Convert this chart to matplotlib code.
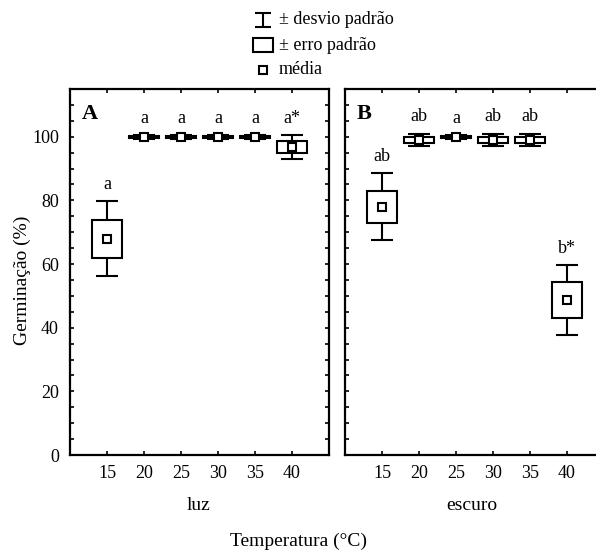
import numpy as np
import matplotlib
matplotlib.use('Agg')
import matplotlib.pyplot as plt
from matplotlib.patches import Rectangle
from matplotlib.ticker import MultipleLocator

plt.rcParams['font.family'] = ['Liberation Serif', 'DejaVu Serif']

# temperaturas (°C)
temps = [15, 20, 25, 30, 35, 40]

# luz: media, erro padrao, desvio padrao
luz_mean = [67.9, 100.0, 100.0, 100.0, 100.0, 96.8]
luz_se = [5.9, 0.3, 0.3, 0.3, 0.3, 1.9]
luz_sd = [11.8, 0.6, 0.6, 0.6, 0.6, 3.8]
luz_letters = ['a', 'a', 'a', 'a', 'a', 'a*']

# escuro
escuro_mean = [78.0, 99.0, 100.0, 99.0, 99.0, 48.7]
escuro_se = [5.0, 1.0, 0.3, 1.0, 1.0, 5.6]
escuro_sd = [10.5, 2.0, 0.6, 2.0, 2.0, 11.0]
escuro_letters = ['ab', 'ab', 'a', 'ab', 'ab', 'b*']

W, H = 596, 552
BOX_HW = 2.0
CAP_HW = 1.5
LW = 1.5


def px_axes(fig, l, t, r, b):
    return fig.add_axes([l / W, 1 - b / H, (r - l) / W, (b - t) / H])


def box_panel(ax, x, mean, se, sd, letters, tag, show_ylabels):
    for xi, m, s, d, lab in zip(x, mean, se, sd, letters):
        # whiskers (desvio padrao)
        ax.vlines(xi, m + s, m + d, color='k', lw=LW, zorder=2)
        ax.vlines(xi, m - d, m - s, color='k', lw=LW, zorder=2)
        ax.hlines([m - d, m + d], xi - CAP_HW, xi + CAP_HW, color='k', lw=LW, zorder=2)
        # caixa (erro padrao)
        ax.add_patch(Rectangle((xi - BOX_HW, m - s), 2 * BOX_HW, 2 * s,
                               facecolor='white', edgecolor='k', lw=LW, zorder=3))
        ax.text(xi, m + d + 3.8, lab, ha='center', va='baseline', fontsize=13)
    ax.plot(x, mean, 's', ms=6, mfc='white', mec='k', mew=1.5, zorder=4)

    ax.set_xlim(10, 45)
    ax.set_ylim(0, 115)
    ax.set_xticks(temps)
    ax.yaxis.set_major_locator(MultipleLocator(20))
    ax.yaxis.set_minor_locator(MultipleLocator(5))
    ax.tick_params(which='both', direction='in', top=True, right=True,
                   length=3, width=1.2, labelsize=13)
    ax.tick_params(axis='x', pad=7)
    ax.tick_params(axis='y', pad=8)
    if not show_ylabels:
        ax.tick_params(axis='y', labelleft=False)
    ax.set_ylim(0, 115)
    for sp in ax.spines.values():
        sp.set_linewidth(1.6)
    ax.text(0.045, 0.917, tag, transform=ax.transAxes, fontsize=16,
            fontweight='bold', ha='left', va='baseline')


fig = plt.figure(figsize=(W / 100, H / 100), dpi=100)

axA = px_axes(fig, 70, 89, 329, 455)
axB = px_axes(fig, 345, 89, 604, 455)

box_panel(axA, temps, luz_mean, luz_se, luz_sd, luz_letters, 'A', True)
box_panel(axB, temps, escuro_mean, escuro_se, escuro_sd, escuro_letters, 'B', False)

axA.set_yticks([0, 20, 40, 60, 80, 100])

fig.text(199 / W, 1 - 505 / H, 'luz', ha='center', va='center', fontsize=14)
fig.text(472 / W, 1 - 505 / H, 'escuro', ha='center', va='center', fontsize=14)
fig.text(298 / W, 1 - 541 / H, 'Temperatura (°C)', ha='center', va='center', fontsize=14)
fig.text(22 / W, 1 - 280 / H, 'Germinação (%)', ha='center', va='center',
         rotation=90, fontsize=14)

# legenda
lax = fig.add_axes([0, 0, 1, 1])
lax.set_xlim(0, W)
lax.set_ylim(H, 0)
lax.axis('off')
sx = 263
lax.vlines(sx, 13, 27, color='k', lw=LW)
lax.hlines([13, 27], sx - 8, sx + 8, color='k', lw=LW)
lax.add_patch(Rectangle((sx - 10, 38), 20, 14, facecolor='white', edgecolor='k', lw=LW))
lax.plot([sx], [70], 's', ms=6, mfc='white', mec='k', mew=1.5)
lax.text(279, 20, '± desvio padrão', va='center', ha='left', fontsize=13)
lax.text(279, 45, '± erro padrão', va='center', ha='left', fontsize=13)
lax.text(279, 70, 'média', va='center', ha='left', fontsize=13)

fig.savefig('out.png', dpi=100)
